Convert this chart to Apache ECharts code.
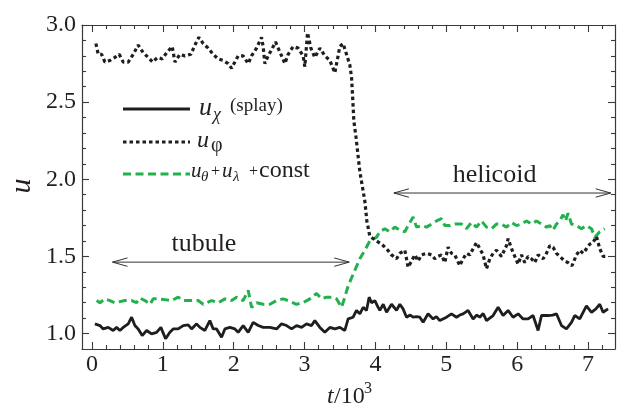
<!DOCTYPE html>
<html>
<head>
<meta charset="utf-8">
<script src="https://cdn.jsdelivr.net/npm/echarts@6/dist/echarts.min.js"></script>
<style>
  html, body { margin: 0; padding: 0; background: #fff; }
  #chart { width: 618px; height: 408px; }
</style>
</head>
<body>
<div id="chart"></div>
<script>
// Energy components vs time (t in units of 10^3)

// u_chi (splay) — solid black
const uChi = [[0.042,1.063],[0.113,1.052],[0.159,1.03],[0.23,1.04],[0.3,1.02],[0.348,1.04],[0.395,1.02],[0.441,1.04],[0.512,1.063],[0.56,1.106],[0.606,1.052],[0.653,1.03],[0.709,0.987],[0.772,1.02],[0.842,0.998],[0.913,1.008],[0.973,1.04],[1.039,0.966],[1.1,1.008],[1.147,1.03],[1.217,1.03],[1.288,1.052],[1.358,1.056],[1.406,1.03],[1.477,1.063],[1.523,1.04],[1.594,1.02],[1.664,1.084],[1.711,1.03],[1.759,1.03],[1.829,0.976],[1.876,1.03],[1.946,1.04],[2.017,1.03],[2.063,1.008],[2.134,1.052],[2.205,1.008],[2.275,1.073],[2.346,1.052],[2.416,1.04],[2.511,1.04],[2.605,1.03],[2.676,1.063],[2.746,1.052],[2.817,1.03],[2.887,1.052],[2.958,1.04],[3.028,1.063],[3.099,1.052],[3.145,1.084],[3.216,1.04],[3.286,1.008],[3.357,1.04],[3.427,1.03],[3.498,1.04],[3.568,1.02],[3.615,1.095],[3.685,1.106],[3.733,1.15],[3.78,1.128],[3.827,1.17],[3.874,1.15],[3.911,1.236],[3.945,1.2],[3.992,1.214],[4.038,1.17],[4.062,1.15],[4.11,1.19],[4.157,1.138],[4.227,1.19],[4.298,1.15],[4.344,1.19],[4.39,1.16],[4.439,1.106],[4.49,1.12],[4.532,1.106],[4.58,1.11],[4.626,1.106],[4.673,1.073],[4.743,1.128],[4.814,1.095],[4.86,1.11],[4.908,1.084],[5.003,1.106],[5.073,1.128],[5.144,1.106],[5.19,1.12],[5.237,1.128],[5.307,1.15],[5.378,1.095],[5.43,1.12],[5.472,1.106],[5.52,1.13],[5.567,1.084],[5.66,1.117],[5.731,1.17],[5.801,1.117],[5.872,1.15],[5.942,1.106],[6.013,1.128],[6.083,1.095],[6.154,1.095],[6.224,1.117],[6.295,1.02],[6.343,1.117],[6.436,1.117],[6.5,1.12],[6.554,1.128],[6.625,1.052],[6.695,1.03],[6.766,1.073],[6.812,1.117],[6.883,1.095],[6.977,1.18],[7.048,1.138],[7.11,1.16],[7.165,1.19],[7.212,1.138],[7.282,1.16]];

// u_phi — dotted black
const uPhi = [[0.056,2.88],[0.089,2.81],[0.137,2.81],[0.183,2.76],[0.254,2.77],[0.324,2.79],[0.385,2.81],[0.441,2.76],[0.512,2.76],[0.583,2.81],[0.653,2.87],[0.724,2.82],[0.794,2.79],[0.856,2.76],[0.927,2.79],[0.992,2.78],[1.054,2.82],[1.133,2.86],[1.171,2.76],[1.241,2.81],[1.312,2.80],[1.396,2.81],[1.453,2.87],[1.509,2.92],[1.570,2.88],[1.640,2.85],[1.711,2.81],[1.781,2.78],[1.852,2.77],[1.922,2.75],[1.970,2.72],[2.017,2.76],[2.063,2.80],[2.134,2.80],[2.205,2.75],[2.252,2.80],[2.323,2.85],[2.393,2.92],[2.416,2.86],[2.440,2.75],[2.487,2.80],[2.535,2.84],[2.591,2.89],[2.628,2.85],[2.676,2.80],[2.722,2.75],[2.769,2.81],[2.839,2.86],[2.910,2.85],[2.980,2.80],[3.004,2.73],[3.042,2.95],[3.061,2.91],[3.089,2.85],[3.145,2.79],[3.216,2.85],[3.286,2.80],[3.357,2.77],[3.427,2.69],[3.498,2.86],[3.544,2.88],[3.592,2.81],[3.639,2.74],[3.663,2.66],[3.681,2.51],[3.695,2.38],[3.724,2.28],[3.780,2.05],[3.850,1.86],[3.879,1.73],[3.921,1.63],[4.016,1.60],[4.086,1.58],[4.157,1.55],[4.227,1.51],[4.298,1.485],[4.344,1.52],[4.415,1.54],[4.461,1.43],[4.509,1.47],[4.556,1.51],[4.602,1.47],[4.650,1.51],[4.721,1.52],[4.791,1.51],[4.838,1.485],[4.884,1.50],[4.932,1.51],[4.979,1.46],[5.025,1.56],[5.073,1.52],[5.120,1.51],[5.190,1.44],[5.237,1.485],[5.285,1.52],[5.331,1.51],[5.378,1.55],[5.426,1.59],[5.473,1.55],[5.519,1.51],[5.567,1.42],[5.614,1.485],[5.660,1.52],[5.708,1.54],[5.779,1.50],[5.849,1.57],[5.872,1.615],[5.920,1.55],[5.966,1.50],[6.013,1.45],[6.061,1.51],[6.107,1.46],[6.154,1.50],[6.202,1.485],[6.248,1.46],[6.295,1.51],[6.365,1.485],[6.413,1.52],[6.460,1.57],[6.506,1.56],[6.554,1.52],[6.601,1.50],[6.671,1.47],[6.718,1.46],[6.774,1.44],[6.836,1.51],[6.883,1.54],[6.930,1.52],[6.977,1.55],[7.024,1.58],[7.071,1.59],[7.118,1.63],[7.165,1.55],[7.212,1.50],[7.259,1.50]];

// u_theta + u_lambda + const — dashed green
const uThetaLambda = [[0.066,1.214],[0.113,1.20],[0.183,1.225],[0.254,1.214],[0.324,1.20],[0.465,1.214],[0.560,1.214],[0.630,1.20],[0.677,1.23],[0.748,1.214],[0.818,1.19],[0.865,1.225],[0.935,1.225],[1.030,1.22],[1.124,1.214],[1.217,1.236],[1.288,1.214],[1.406,1.214],[1.499,1.214],[1.570,1.19],[1.688,1.214],[1.781,1.20],[1.876,1.225],[1.970,1.214],[2.041,1.236],[2.134,1.214],[2.205,1.28],[2.252,1.17],[2.323,1.20],[2.416,1.19],[2.511,1.19],[2.605,1.214],[2.698,1.225],[2.769,1.214],[2.887,1.19],[2.980,1.20],[3.075,1.225],[3.169,1.26],[3.240,1.225],[3.310,1.236],[3.403,1.236],[3.451,1.225],[3.522,1.17],[3.568,1.236],[3.615,1.31],[3.709,1.41],[3.780,1.485],[3.850,1.54],[3.921,1.60],[4.016,1.625],[4.062,1.66],[4.133,1.68],[4.203,1.66],[4.274,1.69],[4.344,1.67],[4.415,1.66],[4.461,1.70],[4.532,1.755],[4.580,1.69],[4.650,1.70],[4.721,1.69],[4.791,1.71],[4.862,1.73],[4.932,1.745],[4.979,1.70],[5.049,1.70],[5.120,1.71],[5.214,1.71],[5.285,1.68],[5.355,1.72],[5.426,1.69],[5.496,1.73],[5.567,1.69],[5.638,1.68],[5.708,1.71],[5.779,1.71],[5.849,1.69],[5.920,1.72],[5.990,1.70],[6.061,1.71],[6.131,1.73],[6.202,1.71],[6.272,1.73],[6.343,1.71],[6.413,1.69],[6.460,1.70],[6.506,1.67],[6.554,1.71],[6.601,1.73],[6.647,1.77],[6.681,1.73],[6.718,1.78],[6.766,1.71],[6.836,1.70],[6.907,1.68],[6.977,1.70],[7.048,1.68],[7.095,1.625],[7.165,1.66],[7.236,1.68]];

// Regime annotations: [tStart, tEnd, u] for the double arrows, and label anchors [t, u]
const regimeArrows = [[0.29, 3.63, 1.463], [4.26, 7.32, 1.911]];
const regimeLabelPos = [[1.58, 1.578], [5.68, 2.026]];
const regimeLabels = ['tubule', 'helicoid'];

// Axis ticks and labels
const xRange = [-0.14, 7.38];
const yRange = [0.9, 3.0];
const xTickLabels = [0, 1, 2, 3, 4, 5, 6, 7];
const yTickLabels = [1.0, 1.5, 2.0, 2.5, 3.0];
const xMinor = [];
for (let i = 0; i <= 36; i++) { const v = +(i * 0.2).toFixed(1); if (Math.abs(v - Math.round(v)) > 1e-6) xMinor.push(v); }
const yMinor = [];
for (let i = 10; i <= 29; i++) { const v = +(i * 0.1).toFixed(1); if (Math.abs(v * 2 - Math.round(v * 2)) > 1e-6) yMinor.push(v); }

const INK = '#231f20';
const FRAME = '#3a3a3a';
const GREEN = '#22b14c';
const SERIF = 'Liberation Serif';

function axisDef(kind, position, values, len, withLabels, showLine) {
  const range = kind === 'x' ? xRange : yRange;
  return {
    type: 'value', position, min: range[0], max: range[1],
    axisLine: { show: showLine, onZero: false, lineStyle: { color: FRAME, width: 1.2 } },
    splitLine: { show: false },
    axisTick: { show: true, inside: true, length: len, customValues: values, lineStyle: { color: FRAME, width: 1.1 } },
    axisLabel: withLabels ? {
      show: true, customValues: values, margin: kind === 'x' ? 4 : 6,
      fontFamily: SERIF, fontSize: 24, color: INK,
      formatter: v => kind === 'x' ? String(Math.round(v)) : Number(v).toFixed(1)
    } : { show: false }
  };
}

const chart = echarts.init(document.getElementById('chart'), null, { renderer: 'canvas' });

function txt(x, y, text, size, italic, extra) {
  return Object.assign({ type: 'text', x, y, style: Object.assign({
    text, fontFamily: SERIF, fontSize: size, fontStyle: italic ? 'italic' : 'normal',
    fill: INK, verticalAlign: 'middle' }, extra || {}) });
}

const option = {
  animation: false,
  backgroundColor: '#fff',
  grid: { left: 82, right: 3, top: 25, bottom: 59, containLabel: false },
  xAxis: [
    axisDef('x', 'bottom', xTickLabels, 7, true, true),
    axisDef('x', 'bottom', xMinor, 4, false, false),
    axisDef('x', 'top', xTickLabels, 7, false, true),
    axisDef('x', 'top', xMinor, 4, false, false)
  ],
  yAxis: [
    axisDef('y', 'left', yTickLabels, 7, true, true),
    axisDef('y', 'left', yMinor, 4, false, false),
    axisDef('y', 'right', yTickLabels, 7, false, true),
    axisDef('y', 'right', yMinor, 4, false, false)
  ],
  series: [
    {
      name: 'u_theta + u_lambda + const', type: 'line', data: uThetaLambda,
      symbol: 'none', lineStyle: { color: GREEN, width: 3, type: [8, 4.5] }, z: 2
    },
    {
      name: 'u_phi', type: 'line', data: uPhi,
      symbol: 'none', lineStyle: { color: '#1e1e1e', width: 3.2, type: [3.5, 3] }, z: 3
    },
    {
      name: 'u_chi', type: 'line', data: uChi,
      symbol: 'none', lineStyle: { color: '#1e1e1e', width: 2.8 }, z: 4
    },
    {
      name: 'regimes', type: 'custom', data: regimeArrows, z: 5,
      renderItem: (params, api) => {
        const a = api.coord([api.value(0), api.value(2)]);
        const b = api.coord([api.value(1), api.value(2)]);
        const st = { stroke: '#333', lineWidth: 1, fill: null };
        const hl = 15, hw = 4.2;
        return {
          type: 'group',
          children: [
            { type: 'line', shape: { x1: a[0], y1: a[1], x2: b[0], y2: b[1] }, style: st },
            { type: 'polyline', shape: { points: [[a[0] + hl, a[1] - hw], [a[0], a[1]], [a[0] + hl, a[1] + hw]] }, style: st },
            { type: 'polyline', shape: { points: [[b[0] - hl, b[1] - hw], [b[0], b[1]], [b[0] - hl, b[1] + hw]] }, style: st }
          ]
        };
      }
    },
    {
      name: 'regime labels', type: 'custom', data: regimeLabelPos, z: 5,
      renderItem: (params, api) => {
        const p = api.coord([api.value(0), api.value(1)]);
        return {
          type: 'text', x: p[0], y: p[1],
          style: { text: regimeLabels[params.dataIndex], fontFamily: SERIF, fontSize: 26,
                   fill: INK, align: 'center', verticalAlign: 'middle' }
        };
      }
    }
  ],
  graphic: [
    // legend samples
    { type: 'line', shape: { x1: 123, y1: 109, x2: 190, y2: 109 }, style: { stroke: '#1e1e1e', lineWidth: 2.8 } },
    { type: 'line', shape: { x1: 123, y1: 142, x2: 190, y2: 142 }, style: { stroke: '#1e1e1e', lineWidth: 3.2, lineDash: [3.5, 3] } },
    { type: 'line', shape: { x1: 123, y1: 174, x2: 190, y2: 174 }, style: { stroke: GREEN, lineWidth: 3, lineDash: [8, 4.5] } },
    // legend text, row 1: u_chi (splay)
    txt(199, 108, 'u', 26, true),
    txt(213, 115, 'χ', 18, true),
    txt(230, 106, '(splay)', 19, false),
    // row 2: u_phi
    txt(197, 141, 'u', 24, true),
    txt(211, 146, 'φ', 20, false),
    // row 3: u_theta + u_lambda + const
    txt(191, 171, 'u', 21, true),
    txt(201, 177, 'θ', 15, true),
    txt(211, 172, '+', 16, false),
    txt(222, 171, 'u', 21, true),
    txt(233, 177, 'λ', 15, true),
    txt(249, 172, '+', 16, false),
    txt(259, 171, 'const', 24, false),
    // axis titles
    Object.assign(txt(22, 186, 'u', 30, true, { align: 'center' }), { rotation: Math.PI / 2 }),
    txt(327, 397, 't', 24, true),
    txt(334, 397, '/10', 24, false),
    txt(364, 389, '3', 16, false)
  ]
};

chart.setOption(option);
</script>
</body>
</html>
